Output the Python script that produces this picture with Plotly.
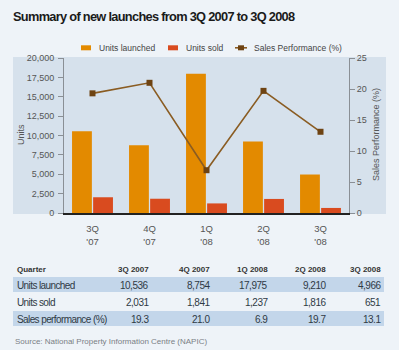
import plotly.graph_objects as go

# Quarterly data
quarters = ["3Q<br>'07", "4Q<br>'07", "1Q<br>'08", "2Q<br>'08", "3Q<br>'08"]
table_quarters = ["3Q 2007", "4Q 2007", "1Q 2008", "2Q 2008", "3Q 2008"]
units_launched = [10536, 8754, 17975, 9210, 4966]
units_sold = [2031, 1841, 1237, 1816, 651]
sales_performance = [19.3, 21.0, 6.9, 19.7, 13.1]

W, H = 399, 350
ML, MR, MT, MB = 64, 50, 58, 137
PW = W - ML - MR
PH = H - MT - MB


def px(x):
    return (x - ML) / PW


def py(y):
    return (H - MB - y) / PH


def tight(text, spacing):
    # condensed look via negative letter spacing
    return '<span style="letter-spacing:%spx">%s</span>' % (spacing, text)


ORANGE = "#E38A00"
RED = "#D94B1F"
LINE = "#8A5C22"
MARK = "#6E4312"
PANEL = "#D6E1EC"
BG = "#EEF3F8"
BAND = "#C3D6EA"
TXT = "#555555"
SANS = "Liberation Sans, Arial, sans-serif"

fig = go.Figure()
fig.add_trace(go.Bar(x=quarters, y=units_launched, name="Units launched",
                     marker_color=ORANGE, marker_line_width=0, showlegend=False))
fig.add_trace(go.Bar(x=quarters, y=units_sold, name="Units sold",
                     marker_color=RED, marker_line_width=0, showlegend=False))
fig.add_trace(go.Scatter(x=quarters, y=sales_performance, name="Sales Performance (%)",
                         yaxis="y2", mode="lines+markers", showlegend=False,
                         line=dict(color=LINE, width=1.6),
                         marker=dict(symbol="square", size=6, color=MARK)))

shapes = [
    # chart panel
    dict(type="rect", xref="paper", yref="paper", x0=px(13), x1=px(386), y0=py(214), y1=py(57),
         fillcolor=PANEL, line_width=0, layer="below"),
]
# table row bands
for y0, y1 in [(277, 292), (311, 326)]:
    shapes.append(dict(type="rect", xref="paper", yref="paper", x0=px(13), x1=px(384),
                       y0=py(y1), y1=py(y0), fillcolor=BAND, line_width=0, layer="below"))

annotations = []

# legend keys
LEG_Y = 47.8
shapes.append(dict(type="rect", xref="paper", yref="paper", x0=px(81), x1=px(91),
                   y0=py(LEG_Y + 2.5), y1=py(LEG_Y - 2.5), fillcolor=ORANGE, line_width=0))
shapes.append(dict(type="rect", xref="paper", yref="paper", x0=px(168), x1=px(178),
                   y0=py(LEG_Y + 2.5), y1=py(LEG_Y - 2.5), fillcolor=RED, line_width=0))
shapes.append(dict(type="line", xref="paper", yref="paper", x0=px(235), x1=px(247),
                   y0=py(LEG_Y), y1=py(LEG_Y), line=dict(color=LINE, width=1.6)))
shapes.append(dict(type="rect", xref="paper", yref="paper", x0=px(238), x1=px(244),
                   y0=py(LEG_Y + 2.5), y1=py(LEG_Y - 2.5), fillcolor=MARK, line_width=0))
for label, xl in [("Units launched", 96.5), ("Units sold", 184), ("Sales Performance (%)", 252)]:
    annotations.append(dict(text=label, x=px(xl), y=py(LEG_Y), xref="paper", yref="paper",
                            xanchor="left", yanchor="middle", showarrow=False,
                            font=dict(size=8.5, color="#444444", family=SANS)))

col_right = [151, 212, 270, 328, 383]

annotations.append(dict(text="<b>Quarter</b>", x=px(15), y=py(269), xref="paper", yref="paper",
                        xanchor="left", yanchor="middle", showarrow=False,
                        font=dict(size=8, color="#333333", family=SANS)))
for q, xr in zip(table_quarters, col_right):
    annotations.append(dict(text="<b>%s</b>" % q, x=px(xr), y=py(269), xref="paper", yref="paper",
                            xanchor="right", yanchor="middle", showarrow=False,
                            font=dict(size=8, color="#333333", family=SANS)))

rows = [
    ("Units launched", ["{:,}".format(v) for v in units_launched], 285),
    ("Units sold", ["{:,}".format(v) for v in units_sold], 302),
    ("Sales performance (%)", ["{:.1f}".format(v) for v in sales_performance], 319),
]
for label, vals, yy in rows:
    annotations.append(dict(text=tight(label, -0.6), x=px(15), y=py(yy), xref="paper", yref="paper",
                            xanchor="left", yanchor="middle", showarrow=False,
                            font=dict(size=10, color="#2F3A45", family=SANS)))
    for v, xr in zip(vals, col_right):
        annotations.append(dict(text=tight(v, -0.5), x=px(xr), y=py(yy), xref="paper", yref="paper",
                                xanchor="right", yanchor="middle", showarrow=False,
                                font=dict(size=10, color="#2F3A45", family=SANS)))

annotations.append(dict(text="Source: National Property Information Centre (NAPIC)",
                        x=px(13), y=py(341), xref="paper", yref="paper",
                        xanchor="left", yanchor="middle", showarrow=False,
                        font=dict(size=8, color="#7A7F85", family=SANS)))

# axis titles
annotations.append(dict(text="Units", x=px(21), y=py(135), xref="paper", yref="paper",
                        textangle=-90, showarrow=False, xanchor="center", yanchor="middle",
                        font=dict(size=9, color=TXT)))
annotations.append(dict(text="Sales Performance (%)", x=px(376), y=py(135), xref="paper", yref="paper",
                        textangle=-90, showarrow=False, xanchor="center", yanchor="middle",
                        font=dict(size=9, color=TXT)))

fig.update_layout(
    width=W, height=H,
    margin=dict(l=ML, r=MR, t=MT, b=MB, pad=0),
    paper_bgcolor=BG, plot_bgcolor=PANEL,
    font=dict(family=SANS, size=9, color=TXT),
    title=dict(text="<b>" + tight("Summary of new launches from 3Q 2007 to 3Q 2008", -0.7) + "</b>",
               x=13 / W, xanchor="left", y=1 - 17 / H, yanchor="middle",
               font=dict(family=SANS, size=12.8, color="#1A1A1A")),
    barmode="group", bargap=0.26, bargroupgap=0.06,
    showlegend=False,
    xaxis=dict(showgrid=False, showline=True, linecolor="#222222", linewidth=1.5,
               ticks="", tickfont=dict(size=9.5, color=TXT), zeroline=False,
               ticklabelstandoff=6),
    yaxis=dict(range=[0, 20000], dtick=2500, tickformat=",d", showgrid=False,
               showline=True, linecolor="#8A8F95", linewidth=1, ticks="outside",
               ticklen=5, tickcolor="#8A8F95", tickfont=dict(size=9, color=TXT),
               zeroline=False, ticklabelstandoff=2),
    yaxis2=dict(range=[0, 25], dtick=5, overlaying="y", side="right", showgrid=False,
                showline=True, linecolor="#8A8F95", linewidth=1, ticks="outside",
                ticklen=5, tickcolor="#8A8F95", tickfont=dict(size=9, color=TXT),
                zeroline=False),
    shapes=shapes,
    annotations=annotations,
)

fig.write_html("out.html")
